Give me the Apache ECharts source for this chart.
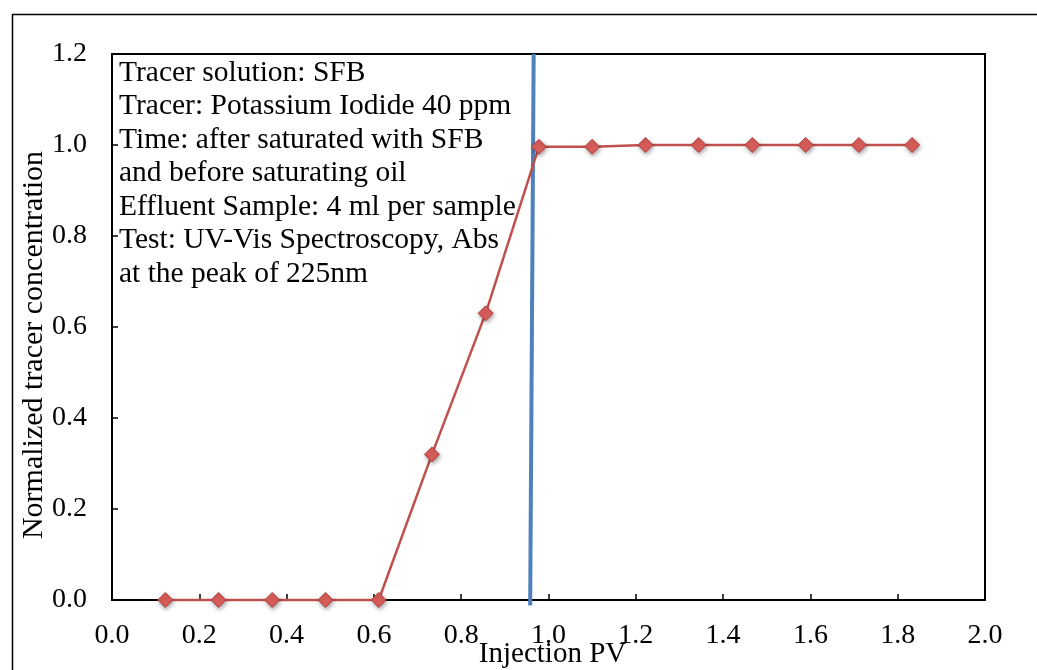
<!DOCTYPE html>
<html>
<head>
<meta charset="utf-8">
<script src="https://cdn.jsdelivr.net/npm/echarts@6/dist/echarts.min.js"></script>
<style>
html,body{margin:0;padding:0;background:#fff;overflow:hidden;width:1037px;height:670px;}
#chart{position:absolute;left:0;top:0;width:1037px;height:670px;}
</style>
</head>
<body>
<div id="chart"></div>
<script>
// Data
var injectionPV = [0.122, 0.244, 0.367, 0.489, 0.611, 0.733, 0.856, 0.978, 1.100, 1.222, 1.344, 1.467, 1.589, 1.711, 1.833];
var concentration = [0, 0, 0, 0, 0, 0.32, 0.63, 0.996, 0.996, 1.0, 1.0, 1.0, 1.0, 1.0, 1.0];
var breakthroughX = [0.958, 0.966];
var breakthroughY = [-0.012, 1.2];
var noteLines = [
  'Tracer solution: SFB',
  'Tracer: Potassium Iodide 40 ppm',
  'Time: after saturated with SFB',
  'and before saturating oil',
  'Effluent Sample: 4 ml per sample',
  'Test: UV-Vis Spectroscopy, Abs',
  'at the peak of 225nm'
];
var xAxisName = 'Injection PV';
var yAxisName = 'Normalized tracer concentration';

var font = '"Liberation Serif", "Times New Roman", serif';
var chart = echarts.init(document.getElementById('chart'), null, { width: 1037, height: 670 });

var option = {
  backgroundColor: '#fff',
  animation: false,
  grid: {
    left: 112, top: 54, right: 52, bottom: 70,
    outerBoundsMode: 'none', containLabel: false,
    show: true, borderColor: '#000', borderWidth: 2, backgroundColor: 'transparent'
  },
  xAxis: {
    type: 'value', min: 0, max: 2, interval: 0.2,
    name: xAxisName, nameLocation: 'middle', nameGap: 40, nameMoveOverlap: false,
    nameTextStyle: { fontFamily: font, fontSize: 29, color: '#000', padding: [0, 0, 0, 8] },
    axisLine: { show: true, lineStyle: { color: '#000', width: 2 } },
    axisTick: { show: true, inside: true, length: 6, lineStyle: { color: '#000', width: 1.5 } },
    axisLabel: { fontFamily: font, fontSize: 28, color: '#000', margin: 22,
      formatter: function (v) { return v.toFixed(1); } },
    splitLine: { show: false }
  },
  yAxis: {
    type: 'value', min: 0, max: 1.2, interval: 0.2,
    name: yAxisName, nameLocation: 'middle', nameGap: 63, nameMoveOverlap: false,
    nameTextStyle: { fontFamily: font, fontSize: 30, color: '#000', padding: [0, 36, 0, 0] },
    axisLine: { show: true, lineStyle: { color: '#000', width: 2 } },
    axisTick: { show: true, inside: true, length: 6, lineStyle: { color: '#000', width: 1.5 } },
    axisLabel: { fontFamily: font, fontSize: 28, color: '#000', margin: 25,
      formatter: function (v) { return v.toFixed(1); } },
    splitLine: { show: false }
  },
  series: [
    {
      type: 'line',
      data: breakthroughX.map(function (x, i) { return [x, breakthroughY[i]]; }),
      symbol: 'none',
      clip: false,
      lineStyle: { color: '#4F81BD', width: 4 },
      z: 2
    },
    {
      type: 'line',
      data: injectionPV.map(function (x, i) { return [x, concentration[i]]; }),
      symbol: 'diamond',
      symbolSize: 15,
      clip: false,
      lineStyle: { color: '#C0504D', width: 2.5 },
      itemStyle: {
        color: '#DA5E5B', borderColor: '#B3403D', borderWidth: 1,
        shadowBlur: 4, shadowColor: 'rgba(0,0,0,0.35)', shadowOffsetX: 1, shadowOffsetY: 2
      },
      z: 3
    }
  ],
  graphic: [
    {
      type: 'rect', left: 10, top: 12,
      shape: { width: 1040, height: 700 },
      style: { fill: 'none', stroke: '#000', lineWidth: 1.5 },
      silent: true, z: -1
    },
    {
      type: 'text', left: 119, top: 56,
      style: {
        text: noteLines.join('\n'),
        font: '29.5px ' + font,
        lineHeight: 33.5,
        fill: '#000'
      },
      z: 10
    }
  ]
};
chart.setOption(option);
</script>
</body>
</html>
